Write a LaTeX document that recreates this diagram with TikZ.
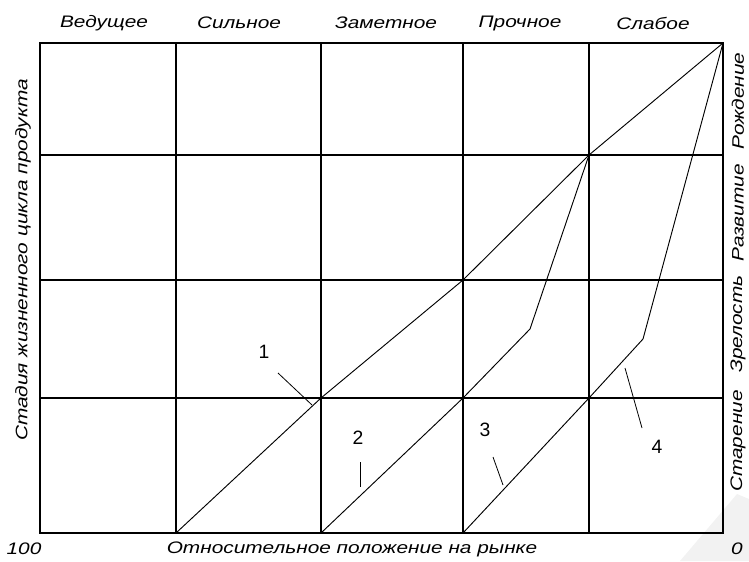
\documentclass[tikz,border=0pt]{standalone}
\usepackage{fontspec}
\setmainfont{Liberation Sans}
\newfontfamily\labelfont{Liberation Sans}[FakeStretch=1.25]
\usetikzlibrary{positioning}
\tikzset{
  gridline/.style={line width=1.2pt},
  stageline/.style={line width=0.7pt, line join=round},
  leader/.style={line width=0.6pt},
  headlabel/.style={font=\labelfont\itshape\fontsize{12.5}{14}\selectfont, inner sep=0pt},
  sidelabel/.style={headlabel, rotate=90},
  marklabel/.style={font=\fontsize{14.5}{16}\selectfont, inner sep=0pt}
}

\begin{document}
\begin{tikzpicture}[x=0.75pt, y=-0.75pt]
  \useasboundingbox (0,0) rectangle (749,561);

  % faint mark in the corner
  \fill[gray!10] (680,561) -- (737,494) -- (749,499) -- (749,561) -- cycle;

  % grid
  \draw[gridline] (40,43) rectangle (723,533);
  \draw[gridline] (176,43) -- (176,533) (321,43) -- (321,533)
                  (463,43) -- (463,533) (589,43) -- (589,533);
  \draw[gridline] (40,155) -- (723,155) (40,280) -- (723,280)
                  (40,398) -- (723,398);

  % corner points of the stage lines
  \coordinate (top) at (723,43);
  \coordinate (a0) at (176,533);
  \coordinate (a1) at (321,398);
  \coordinate (a2) at (463,280);
  \coordinate (a3) at (589,155);
  \coordinate (b0) at (321,533);
  \coordinate (b1) at (463,398);
  \coordinate (b2) at (530,329);
  \coordinate (c0) at (463,533);
  \coordinate (c1) at (589,398);
  \coordinate (c2) at (643,339);

  \draw[stageline] (a0) -- (a1) -- (a2) -- (a3) -- (top);
  \draw[stageline] (b0) -- (b1) -- (b2) -- (a3);
  \draw[stageline] (c0) -- (c1) -- (c2) -- (top);

  % numbered leaders
  \node[marklabel] (n1) at (264,352) {1};
  \coordinate (n1s) at (278,373);
  \coordinate (n1e) at (312,405);
  \draw[leader] (n1s) -- (n1e);
  \node[marklabel] (n2) at (358,438) {2};
  \coordinate (n2s) at (360,462);
  \coordinate (n2e) at (360,487);
  \draw[leader] (n2s) -- (n2e);
  \node[marklabel] (n3) at (485,430) {3};
  \coordinate (n3s) at (493,457);
  \coordinate (n3e) at (503,485);
  \draw[leader] (n3s) -- (n3e);
  \node[marklabel] (n4) at (657,447) {4};
  \coordinate (n4s) at (625,368);
  \coordinate (n4e) at (642,428);
  \draw[leader] (n4s) -- (n4e);

  % headings
  \node[headlabel] (lead) at (104,23) {Ведущее};
  \node[headlabel] (strong) at (239,23) {Сильное};
  \node[headlabel] (notable) at (386,23) {Заметное};
  \node[headlabel] (firm) at (520,23) {Прочное};
  \node[headlabel] (weak) at (653,23) {Слабое};

  \node[sidelabel] (stage) at (23,260) {Стадия жизненного цикла продукта};
  \node[sidelabel] (birth) at (738,101) {Рождение};
  \node[sidelabel] (growth) at (738,213) {Развитие};
  \node[sidelabel] (mature) at (738,324) {Зрелость};
  \node[sidelabel] (aging) at (738,441) {Старение};

  \node[headlabel] (hundred) at (24,549) {100};
  \node[headlabel] (position) at (352,549) {Относительное положение на рынке};
  \node[headlabel] (zero) at (737,549) {0};
\end{tikzpicture}
\end{document}
